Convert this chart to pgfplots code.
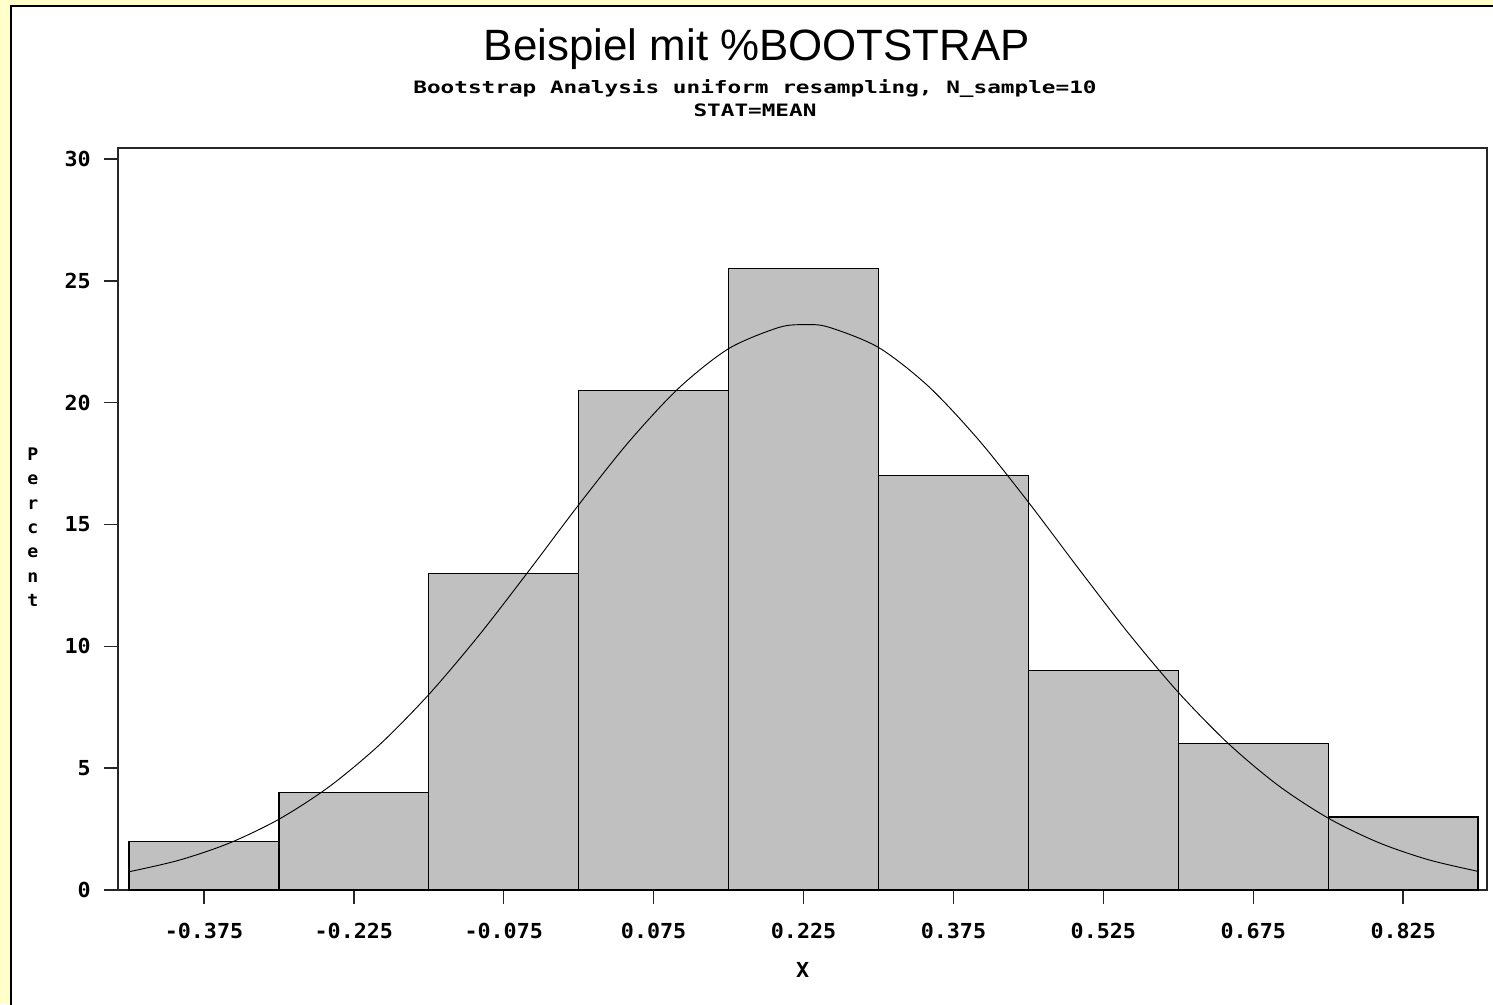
\documentclass[border=0pt]{standalone}
\usepackage{pgfplots}
\pgfplotsset{compat=1.18}
\usepackage{fontspec}
\setmainfont{Liberation Sans}
\newfontfamily\sasA[FakeStretch=1.33]{DejaVu Sans Mono}
\newfontfamily\sasB[FakeStretch=1.05]{DejaVu Sans Mono}
\definecolor{bgyellow}{HTML}{FFFFCC}
\definecolor{barfill}{HTML}{C0C0C0}
\begin{document}
\begin{tikzpicture}
\useasboundingbox (0,0) rectangle (1119.75pt,-753pt);
\fill[bgyellow] (0,0) rectangle (1119.75pt,-753pt);
\fill[white] (8.6pt,-4.3pt) rectangle (1130pt,-770pt);
\draw[black, line width=1.5pt] (8.6pt,-770pt) -- (8.6pt,-4.3pt) -- (1130pt,-4.3pt);
\node[anchor=base, font=\fontsize{32.9}{38}\selectfont] at (567.75pt,-45pt) {Beispiel mit \%BOOTSTRAP};
\node[anchor=base, font=\sasA\bfseries\fontsize{12.8}{15}\selectfont, inner sep=0pt] at (566.25pt,-69.75pt) {Bootstrap Analysis uniform resampling, N\_sample=10};
\node[anchor=base, font=\sasA\bfseries\fontsize{12.8}{15}\selectfont, inner sep=0pt] at (566.25pt,-87pt) {STAT=MEAN};
\begin{axis}[
  at={(88.5pt,-667.5pt)}, anchor=south west,
  scale only axis, width=1026.75pt, height=556.5pt,
  xmin=-0.461, xmax=0.909, ymin=0, ymax=30.45,
  axis line style={line width=1.1pt, draw=black!85},
  tick style={line width=1.1pt, draw=black!85},
  tick align=outside, major tick length=10.5pt,
  xtick pos=bottom, ytick pos=left,
  xtick={-0.375,-0.225,-0.075,0.075,0.225,0.375,0.525,0.675,0.825},
  xticklabels={-0.375,-0.225,-0.075,0.075,0.225,0.375,0.525,0.675,0.825},
  ytick={0,5,10,15,20,25,30},
  yticklabels={0,5,10,15,20,25,30},
  ticklabel style={font=\sasB\bfseries\fontsize{15.5}{17}\selectfont},
  yticklabel style={anchor=east, inner sep=0pt, xshift=-9.75pt},
  xticklabel style={anchor=north, inner sep=0pt, yshift=-14pt},
  xlabel={X},
  xlabel style={font=\sasB\bfseries\fontsize{15.5}{17}\selectfont, at={(axis description cs:0.5,-0.1078)}, anchor=center, inner sep=0pt},
  ylabel={P\\e\\r\\c\\e\\n\\t},
  ylabel style={font=\sasB\bfseries\fontsize{13}{18.2}\selectfont, align=center, rotate=-90, at={(axis description cs:-0.0621,0.489)}, anchor=center, inner sep=0pt},
  clip=false,
]
\addplot[ybar interval, fill=barfill, draw=black, line width=1pt] coordinates {
  (-0.45,2) (-0.30,4) (-0.15,13) (0.00,20.5) (0.15,25.5) (0.30,17) (0.45,9) (0.60,6) (0.75,3) (0.90,3)
};
\addplot[black, line width=0.7pt, smooth] coordinates {
  (-0.45,0.749) (-0.40,1.222) (-0.35,1.919) (-0.30,2.903) (-0.25,4.230) (-0.20,5.935)
  (-0.15,8.022) (-0.10,10.441) (-0.05,13.091) (0.00,15.808) (0.05,18.384) (0.10,20.592)
  (0.15,22.215) (0.20,23.082) (0.226,23.2) (0.25,23.100) (0.30,22.265) (0.35,20.669) (0.40,18.481)
  (0.45,15.915) (0.50,13.200) (0.55,10.544) (0.60,8.112) (0.65,6.012) (0.70,4.290)
  (0.75,2.950) (0.80,1.953) (0.85,1.245) (0.90,0.765)
};
\end{axis}
\end{tikzpicture}
\end{document}
